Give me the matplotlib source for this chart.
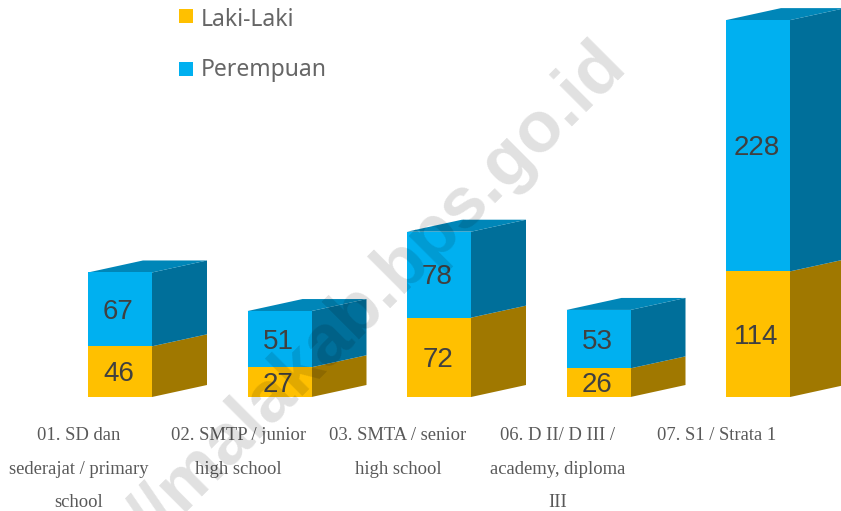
import numpy as np
import matplotlib
matplotlib.use('Agg')
import matplotlib.pyplot as plt
from matplotlib.patches import Polygon, Rectangle

# Data
kategori = ['01. SD dan\nsederajat / primary\nschool',
            '02. SMTP / junior\nhigh school',
            '03. SMTA / senior\nhigh school',
            '06. D II/ D III /\nacademy, diploma\nIII',
            '07. S1 / Strata 1']
laki = np.array([46, 27, 72, 26, 114])
perempuan = np.array([67, 51, 78, 53, 228])

# Depth of the fake 3D, in axis units
dx = 55 / 159.5
dy = 12 / 1.102
lebar = 64 / 159.5

warna_laki = ['#ffc000', '#a07800']
warna_pr = ['#00b0f0', '#006f9a', '#0086b8']

fig = plt.figure(figsize=(8.41, 5.11), dpi=100)
ax = fig.add_axes([0, 0, 1, 1])
ax.set_xlim(-120 / 159.5, (841 - 120) / 159.5)
ax.set_ylim((397 - 511) / 1.102, 397 / 1.102)
ax.axis('off')

x = np.arange(len(kategori))


def sisi(x0, y0, y1, warna):
    # side face of a bar segment
    xr = x0 + lebar / 2
    ax.add_patch(Polygon([(xr, y0), (xr + dx, y0 + dy), (xr + dx, y1 + dy), (xr, y1)],
                         facecolor=warna, edgecolor='none', zorder=2))


for i in x:
    sisi(i, 0, laki[i], warna_laki[1])
    sisi(i, laki[i], laki[i] + perempuan[i], warna_pr[1])
    atas = laki[i] + perempuan[i]
    ax.add_patch(Polygon([(i - lebar / 2, atas), (i - lebar / 2 + dx, atas + dy),
                          (i + lebar / 2 + dx, atas + dy), (i + lebar / 2, atas)],
                         facecolor=warna_pr[2], edgecolor='none', zorder=2))

ax.bar(x, laki, width=lebar, color=warna_laki[0], zorder=3)
ax.bar(x, perempuan, width=lebar, bottom=laki, color=warna_pr[0], zorder=3)

# Value labels
geser_x = -1.5 / 159.5
geser_y = -2.5 / 1.102
for i in x:
    ax.text(i + geser_x, laki[i] / 2 + geser_y, str(laki[i]), ha='center', va='center',
            fontsize=20, family='Liberation Sans', color='#404040', zorder=4)
    ax.text(i + geser_x, laki[i] + perempuan[i] / 2 + geser_y, str(perempuan[i]), ha='center',
            va='center', fontsize=20, family='Liberation Sans', color='#404040', zorder=4)

# Category labels
for i, nama in zip(x, kategori):
    fig.text((120 + 159.5 * i - 41) / 841, 1 - 427 / 511, nama, ha='center', va='top',
             fontsize=13.4, family='Liberation Serif', color='#595959', linespacing=2.27,
             zorder=4)

# Legend
for nama, warna, yp, yk in [('Laki-Laki', warna_laki[0], 20, 16.5),
                            ('Perempuan', warna_pr[0], 70, 69)]:
    fig.add_artist(Rectangle((179 / 841, 1 - (yk + 7) / 511), 14 / 841, 14 / 511,
                             transform=fig.transFigure, facecolor=warna, edgecolor='none'))
    fig.text(201 / 841, 1 - yp / 511, nama, ha='left', va='center', fontsize=16.5,
             family='Noto Sans', color='#666666')

# Watermark
fig.text(629 / 841, 1 - 69 / 511, '//malakab.bps.go.id', rotation=45,
         rotation_mode='anchor', ha='right', va='baseline', fontsize=52, fontweight='bold',
         family='Liberation Sans', color='black', alpha=0.12, zorder=10)

fig.savefig('out.png', dpi=100)
